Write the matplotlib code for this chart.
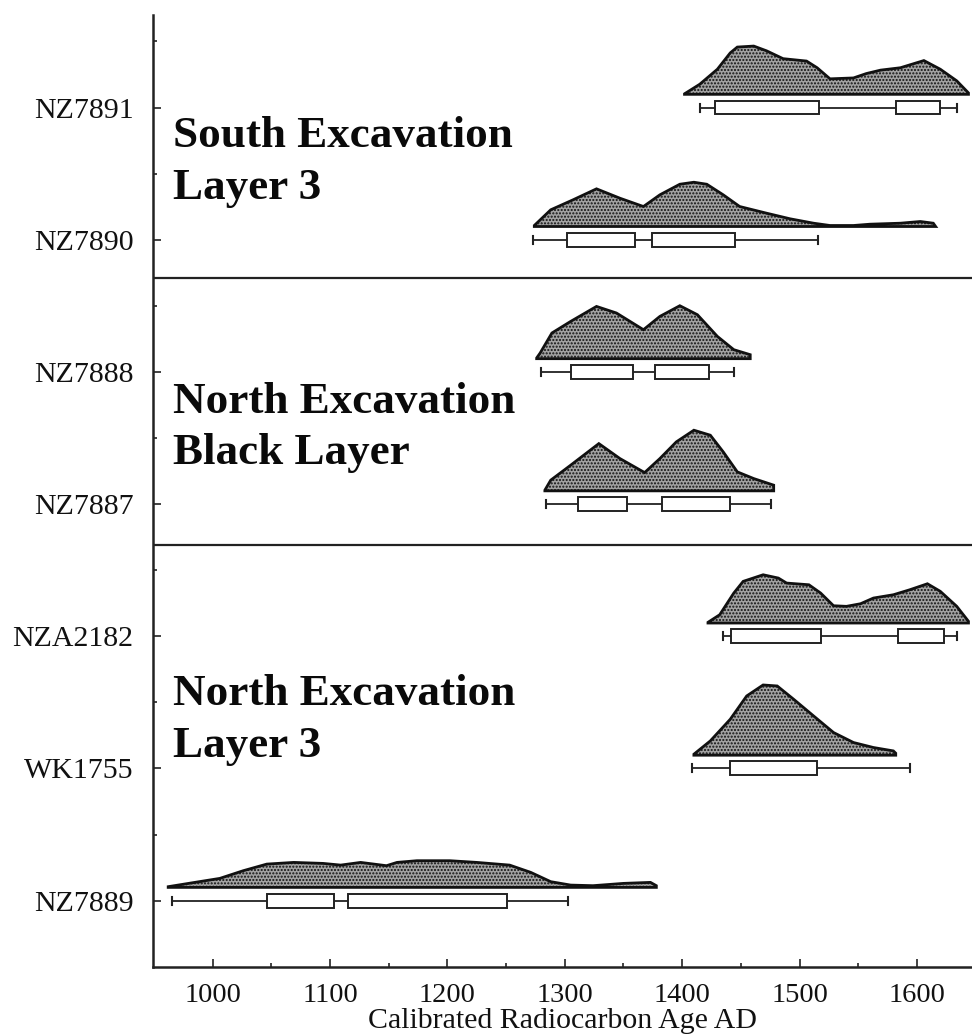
import matplotlib
matplotlib.use("Agg")
import matplotlib.pyplot as plt
from matplotlib.patches import Rectangle

plt.rcParams['font.family'] = ['Liberation Serif', 'DejaVu Serif']
plt.rcParams['hatch.linewidth'] = 1.0
plt.rcParams['hatch.color'] = '#333333'

# sample labels, top to bottom
samples = ['NZ7891', 'NZ7890', 'NZ7888', 'NZ7887', 'NZA2182', 'WK1755', 'NZ7889']

# probability distributions (calendar year AD, relative probability)
nz7891_years = [1402, 1415, 1430, 1441, 1447, 1461, 1472, 1486, 1506, 1515, 1526, 1546,
                1557, 1569, 1586, 1606, 1620, 1634, 1644]
nz7891_prob = [0.5, 10.1, 25.1, 41.5, 47.3, 48.3, 43.5, 35.7, 33.3, 26.6, 15.5, 16.4,
               20.8, 24.2, 26.6, 33.8, 25.1, 13.5, 1.4]

nz7890_years = [1274, 1288, 1307, 1327, 1347, 1367, 1381, 1398, 1410, 1421, 1435, 1449,
                1472, 1492, 1512, 1526, 1546, 1560, 1586, 1603, 1614, 1616]
nz7890_prob = [1, 16.7, 26.7, 37.7, 28.3, 20, 31.7, 42.3, 44.3, 42.3, 31.7, 20,
               13.3, 7.7, 3.3, 1, 1, 2.3, 3.3, 5, 3.3, 0]

nz7888_years = [1276, 1279, 1289, 1305, 1327, 1344, 1367, 1381, 1398, 1413, 1430, 1444, 1458]
nz7888_prob = [0.7, 5.7, 25.7, 37.3, 52.3, 45.7, 29, 42.3, 53, 44, 22.3, 9, 4]

nz7887_years = [1283, 1288, 1305, 1329, 1347, 1368, 1381, 1395, 1410, 1424, 1435, 1447, 1461, 1478]
nz7887_prob = [0.7, 10.7, 25.7, 47.3, 32.3, 18.3, 32.3, 49, 60.7, 55.7, 39, 19, 12.3, 5.7]

nza2182_years = [1422, 1432, 1444, 1452, 1469, 1482, 1489, 1508, 1518, 1529, 1540, 1552,
                 1563, 1580, 1594, 1609, 1620, 1634, 1644]
nza2182_prob = [0.7, 8.3, 30, 41.7, 48.3, 45, 40, 38.3, 30, 17.3, 16.7, 19.3,
                25, 28.3, 33.3, 39.3, 31.7, 16.7, 1.7]

wk1755_years = [1410, 1424, 1441, 1455, 1469, 1481, 1495, 1512, 1529, 1546, 1563, 1580, 1582]
wk1755_prob = [1, 14.3, 36, 59.3, 70.3, 69.3, 56, 39.3, 22.7, 12.7, 7.7, 4.3, 2]

nz7889_years = [962, 981, 1006, 1026, 1046, 1069, 1094, 1109, 1126, 1148, 1157, 1174,
                1202, 1225, 1253, 1271, 1288, 1305, 1324, 1350, 1373, 1378]
nz7889_prob = [0.7, 4.3, 9, 16.7, 23.3, 25, 24, 22.3, 25, 21.7, 25, 26.7,
               26.7, 25, 22.3, 15, 5.7, 2.3, 1.7, 4, 5, 1.7]

# 2 sigma ranges (whiskers) and 1 sigma ranges (boxes)
range_2sigma = [(1415, 1634), (1273, 1516), (1280, 1444), (1284, 1476),
                (1435, 1634), (1408, 1594), (965, 1303)]
range_1sigma = [[(1428, 1517), (1582, 1620)],
                [(1302, 1360), (1374, 1445)],
                [(1305, 1358), (1377, 1423)],
                [(1311, 1353), (1383, 1441)],
                [(1442, 1518), (1584, 1623)],
                [(1441, 1515)],
                [(1046, 1103), (1115, 1251)]]

groups = [['South Excavation', 'Layer 3'],
          ['North Excavation', 'Black Layer'],
          ['North Excavation', 'Layer 3']]
group_y = [5.70, 3.69, 1.48]
separators = [4.71, 2.69]

years_all = [nz7891_years, nz7890_years, nz7888_years, nz7887_years,
             nza2182_years, wk1755_years, nz7889_years]
prob_all = [nz7891_prob, nz7890_prob, nz7888_prob, nz7887_prob,
            nza2182_prob, wk1755_prob, nz7889_prob]

PROB_SCALE = 1 / 132.3
BASE_OFFSET = 0.10
BOX_H = 0.105
CAP_H = 0.06

fig = plt.figure(figsize=(9.72, 10.36), dpi=100)
ax = fig.add_axes([0.1571, 0.0669, 0.8429, 0.9186])

n = len(samples)
ypos = [n - 1 - i for i in range(n)]

for i, name in enumerate(samples):
    y = ypos[i]
    base = y + BASE_OFFSET
    xs = [years_all[i][0]] + list(years_all[i]) + [years_all[i][-1]]
    ys = [base] + [base + p * PROB_SCALE for p in prob_all[i]] + [base]
    ax.fill(xs, ys, facecolor='#a2a2a2', edgecolor='#111111', hatch='.....',
            linewidth=2.0, zorder=2)

    lo, hi = range_2sigma[i]
    ax.plot([lo, hi], [y, y], color='#222222', lw=1.3, zorder=3)
    ax.plot([lo, lo], [y - CAP_H / 2, y + CAP_H / 2], color='#222222', lw=1.5, zorder=3)
    ax.plot([hi, hi], [y - CAP_H / 2, y + CAP_H / 2], color='#222222', lw=1.5, zorder=3)
    for a, b in range_1sigma[i]:
        ax.add_patch(Rectangle((a, y - BOX_H / 2), b - a, BOX_H, facecolor='white',
                               edgecolor='#222222', lw=1.4, zorder=4))

for s in separators:
    ax.axhline(s, color='#222222', lw=1.6)

for lines, gy in zip(groups, group_y):
    for k, line in enumerate(lines):
        ax.text(966, gy - k * 0.39, line, fontsize=32.5, fontweight='bold',
                ha='left', va='baseline', color='#0a0a0a')

ax.set_xlim(948.8, 1647)
ax.set_ylim(-0.5, 6.7)
ax.set_xticks([1000, 1100, 1200, 1300, 1400, 1500, 1600])
ax.set_xticks([1050, 1150, 1250, 1350, 1450, 1550], minor=True)
ax.set_yticks(ypos)
ax.set_yticklabels(samples)
ax.set_yticks([y + 0.5 for y in range(n)], minor=True)
ax.tick_params(axis='both', which='major', direction='in', length=6, width=1.2,
               color='#222222')
ax.tick_params(axis='both', which='minor', direction='in', length=3, width=1.2,
               color='#222222')
ax.tick_params(axis='y', labelsize=21.5, pad=14, labelcolor='#111111')
ax.tick_params(axis='x', labelsize=20.5, pad=12, labelcolor='#111111')
for side in ['top', 'right']:
    ax.spines[side].set_visible(False)
for side in ['left', 'bottom']:
    ax.spines[side].set_linewidth(1.8)
    ax.spines[side].set_color('#222222')

ax.set_xlabel('Calibrated Radiocarbon Age AD', fontsize=21.5, labelpad=0,
              color='#111111')

fig.savefig('out.png', dpi=100)
